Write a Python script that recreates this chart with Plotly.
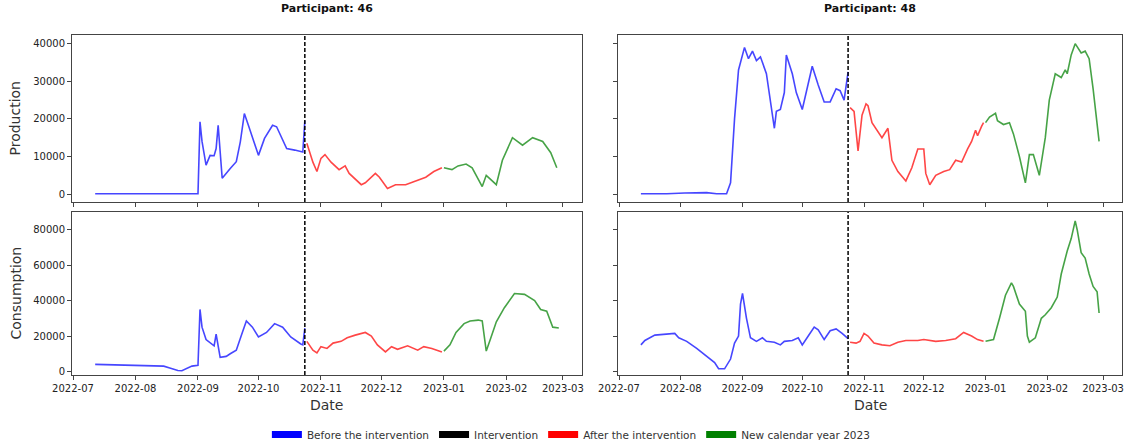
import plotly.graph_objects as go
from plotly.subplots import make_subplots

# ---------------- data ----------------
intervention_date = "2022-10-24"

# Participant 46 - production
p46_prod_before_dates = ["2022-07-12", "2022-09-01", "2022-09-02", "2022-09-03", "2022-09-05", "2022-09-07",
                         "2022-09-09", "2022-09-10", "2022-09-11", "2022-09-13", "2022-09-17", "2022-09-20",
                         "2022-09-22", "2022-09-24", "2022-09-26", "2022-10-01", "2022-10-04", "2022-10-08",
                         "2022-10-10", "2022-10-15", "2022-10-19", "2022-10-23", "2022-10-24"]
p46_prod_before = [100, 100, 19200, 14000, 7700, 10300, 10200, 12100, 18300, 4200, 6800, 8600,
                   13900, 21400, 18300, 10300, 14800, 18300, 17900, 12100, 11700, 11200, 19500]
p46_prod_after_dates = ["2022-10-25", "2022-10-28", "2022-10-30", "2022-11-01", "2022-11-03", "2022-11-06",
                        "2022-11-10", "2022-11-13", "2022-11-15", "2022-11-21", "2022-11-23", "2022-11-28",
                        "2022-11-30", "2022-12-04", "2022-12-08", "2022-12-13", "2022-12-18", "2022-12-23",
                        "2022-12-27", "2022-12-31"]
p46_prod_after = [13500, 8500, 6000, 9500, 10500, 8500, 6500, 7500, 5500, 2500, 3000, 5500,
                  4500, 1500, 2500, 2500, 3500, 4500, 6000, 7000]
p46_prod_2023_dates = ["2023-01-01", "2023-01-05", "2023-01-08", "2023-01-12", "2023-01-15", "2023-01-20",
                       "2023-01-22", "2023-01-27", "2023-01-30", "2023-02-04", "2023-02-09", "2023-02-14",
                       "2023-02-19", "2023-02-23", "2023-02-26"]
p46_prod_2023 = [7000, 6500, 7500, 8000, 7000, 2000, 5000, 2500, 9000, 15000, 13000, 15000,
                 14000, 11000, 7000]

# Participant 48 - production
p48_prod_before_dates = ["2022-07-12", "2022-07-25", "2022-08-03", "2022-08-14", "2022-08-19", "2022-08-24",
                         "2022-08-26", "2022-08-28", "2022-08-30", "2022-09-02", "2022-09-04", "2022-09-06",
                         "2022-09-08", "2022-09-10", "2022-09-13", "2022-09-15", "2022-09-17", "2022-09-18",
                         "2022-09-20", "2022-09-22", "2022-09-23", "2022-09-26", "2022-09-28", "2022-10-01",
                         "2022-10-03", "2022-10-06", "2022-10-09", "2022-10-12", "2022-10-15", "2022-10-18",
                         "2022-10-20", "2022-10-22", "2022-10-24"]
p48_prod_before = [100, 100, 300, 400, 100, 100, 3000, 20000, 33000, 39000, 36000, 38000,
                   35500, 36500, 32000, 24000, 17500, 22000, 22500, 27000, 37000, 32000, 27000, 22500,
                   27000, 34000, 29000, 24500, 24500, 28000, 27500, 25000, 32500]
p48_prod_after_dates = ["2022-10-25", "2022-10-27", "2022-10-29", "2022-10-31", "2022-11-02", "2022-11-03",
                        "2022-11-05", "2022-11-07", "2022-11-10", "2022-11-13", "2022-11-15", "2022-11-18",
                        "2022-11-22", "2022-11-25", "2022-11-28", "2022-12-01", "2022-12-02", "2022-12-04",
                        "2022-12-07", "2022-12-11", "2022-12-14", "2022-12-17", "2022-12-20", "2022-12-23",
                        "2022-12-25", "2022-12-27", "2022-12-28", "2022-12-30", "2022-12-31"]
p48_prod_after = [23000, 22000, 11500, 21000, 24000, 23500, 19000, 17500, 15000, 17500, 9000, 6000,
                  3500, 7000, 12000, 12000, 5500, 2500, 5000, 6000, 6500, 9000, 8500, 12000,
                  14000, 17000, 15500, 18000, 19000]
p48_prod_2023_dates = ["2023-01-01", "2023-01-03", "2023-01-06", "2023-01-07", "2023-01-10", "2023-01-13",
                       "2023-01-15", "2023-01-18", "2023-01-21", "2023-01-23", "2023-01-25", "2023-01-28",
                       "2023-01-31", "2023-02-02", "2023-02-05", "2023-02-08", "2023-02-10", "2023-02-11",
                       "2023-02-13", "2023-02-15", "2023-02-18", "2023-02-20", "2023-02-22", "2023-02-24",
                       "2023-02-27"]
p48_prod_2023 = [19000, 20500, 21500, 19500, 18500, 19000, 16000, 10000, 3000, 10500, 10500, 5000,
                 15000, 25000, 32000, 31000, 33000, 32000, 37000, 40000, 37500, 38000, 36000, 28000,
                 14000]

# Participant 46 - consumption
p46_cons_before_dates = ["2022-07-12", "2022-07-19", "2022-07-30", "2022-08-06", "2022-08-15", "2022-08-18",
                         "2022-08-22", "2022-08-24", "2022-08-26", "2022-08-29", "2022-09-01", "2022-09-02",
                         "2022-09-03", "2022-09-05", "2022-09-09", "2022-09-10", "2022-09-12", "2022-09-15",
                         "2022-09-17", "2022-09-20", "2022-09-23", "2022-09-25", "2022-09-28", "2022-10-01",
                         "2022-10-05", "2022-10-09", "2022-10-13", "2022-10-17", "2022-10-22", "2022-10-23",
                         "2022-10-24"]
p46_cons_before = [4000, 3800, 3500, 3200, 3000, 2000, 500, 400, 1500, 3000, 3500, 35000,
                   25000, 18000, 14500, 21000, 8000, 8500, 10000, 12000, 22000, 28500, 25000, 19500,
                   22000, 27000, 25000, 19500, 15500, 15000, 24500]
p46_cons_after_dates = ["2022-10-25", "2022-10-28", "2022-10-30", "2022-11-01", "2022-11-04", "2022-11-07",
                        "2022-11-11", "2022-11-14", "2022-11-18", "2022-11-23", "2022-11-26", "2022-11-29",
                        "2022-12-03", "2022-12-06", "2022-12-09", "2022-12-14", "2022-12-19", "2022-12-22",
                        "2022-12-26", "2022-12-31"]
p46_cons_after = [17000, 12000, 10500, 14000, 13000, 16000, 17000, 19000, 20500, 22000, 20000, 15000,
                  11000, 14000, 12500, 14500, 12000, 14000, 13000, 11000]
p46_cons_2023_dates = ["2023-01-01", "2023-01-04", "2023-01-07", "2023-01-11", "2023-01-14", "2023-01-18",
                       "2023-01-20", "2023-01-22", "2023-01-24", "2023-01-27", "2023-01-31", "2023-02-05",
                       "2023-02-10", "2023-02-15", "2023-02-18", "2023-02-21", "2023-02-24", "2023-02-27"]
p46_cons_2023 = [11500, 15000, 22000, 27000, 28500, 29000, 28500, 11500, 18000, 28000, 36000, 44000,
                 43500, 40000, 35000, 34000, 25000, 24500]

# Participant 48 - consumption
p48_cons_before_dates = ["2022-07-12", "2022-07-14", "2022-07-19", "2022-07-23", "2022-07-29", "2022-07-31",
                         "2022-08-04", "2022-08-09", "2022-08-14", "2022-08-18", "2022-08-20", "2022-08-23",
                         "2022-08-26", "2022-08-28", "2022-08-30", "2022-08-31", "2022-09-01", "2022-09-03",
                         "2022-09-05", "2022-09-08", "2022-09-11", "2022-09-13", "2022-09-17", "2022-09-20",
                         "2022-09-22", "2022-09-26", "2022-09-29", "2022-10-01", "2022-10-04", "2022-10-07",
                         "2022-10-09", "2022-10-12", "2022-10-15", "2022-10-18", "2022-10-21", "2022-10-24"]
p48_cons_before = [15000, 17500, 20500, 21000, 21500, 19000, 17000, 13000, 8500, 5000, 1500, 1500,
                   7000, 16000, 20000, 38000, 44000, 30000, 19000, 17000, 19000, 17000, 16500, 15000,
                   17000, 17500, 19000, 15000, 20000, 25000, 23500, 18000, 23000, 24000, 21500, 18500]
p48_cons_after_dates = ["2022-10-25", "2022-10-28", "2022-10-30", "2022-11-01", "2022-11-03", "2022-11-06",
                        "2022-11-10", "2022-11-14", "2022-11-18", "2022-11-22", "2022-11-28", "2022-12-01",
                        "2022-12-07", "2022-12-12", "2022-12-17", "2022-12-21", "2022-12-25", "2022-12-28",
                        "2022-12-31"]
p48_cons_after = [16500, 16000, 17000, 21500, 20000, 16000, 15000, 14500, 16500, 17500, 17500, 18000,
                  17000, 17500, 18500, 22000, 20000, 18000, 17000]
p48_cons_2023_dates = ["2023-01-01", "2023-01-05", "2023-01-08", "2023-01-11", "2023-01-14", "2023-01-15",
                       "2023-01-18", "2023-01-21", "2023-01-22", "2023-01-23", "2023-01-26", "2023-01-29",
                       "2023-01-31", "2023-02-03", "2023-02-06", "2023-02-08", "2023-02-11", "2023-02-13",
                       "2023-02-15", "2023-02-16", "2023-02-18", "2023-02-20", "2023-02-22", "2023-02-24",
                       "2023-02-26", "2023-02-27"]
p48_cons_2023 = [17000, 18000, 30000, 43000, 50000, 48000, 38000, 34000, 20000, 16500, 19000, 30000,
                 32000, 36000, 42000, 55000, 68000, 75000, 85000, 80000, 67000, 64000, 55000, 48000,
                 45000, 33000]

participants = ["46", "48"]
period_names = ["Before the intervention", "Intervention", "After the intervention", "New calendar year 2023"]
period_colors = ["#0000ff", "#000000", "#ff0000", "#008000"]

production_tickvals = [0, 10000, 20000, 30000, 40000]
consumption_tickvals = [0, 20000, 40000, 60000, 80000]

# ---------------- figure ----------------
W, H = 1126, 440
FONT = "DejaVu Sans"
AXIS_COLOR = "#444444"

fig = make_subplots(rows=2, cols=2, shared_xaxes=True, shared_yaxes=True,
                    horizontal_spacing=0.03, vertical_spacing=0.02)

panels = {
    (1, 1): [(p46_prod_before_dates, p46_prod_before), (p46_prod_after_dates, p46_prod_after),
             (p46_prod_2023_dates, p46_prod_2023)],
    (1, 2): [(p48_prod_before_dates, p48_prod_before), (p48_prod_after_dates, p48_prod_after),
             (p48_prod_2023_dates, p48_prod_2023)],
    (2, 1): [(p46_cons_before_dates, p46_cons_before), (p46_cons_after_dates, p46_cons_after),
             (p46_cons_2023_dates, p46_cons_2023)],
    (2, 2): [(p48_cons_before_dates, p48_cons_before), (p48_cons_after_dates, p48_cons_after),
             (p48_cons_2023_dates, p48_cons_2023)],
}
segment_colors = [period_colors[0], period_colors[2], period_colors[3]]

for (r, c), segments in panels.items():
    for (dates, vals), col in zip(segments, segment_colors):
        fig.add_trace(go.Scatter(x=dates, y=vals, mode="lines",
                                 line=dict(color=col, width=1.6), opacity=0.72,
                                 showlegend=False, hoverinfo="skip"),
                      row=r, col=c)

# intervention marker in every panel
axis_ids = {(1, 1): ("x", "y"), (1, 2): ("x2", "y2"), (2, 1): ("x3", "y3"), (2, 2): ("x4", "y4")}
for (r, c), (xa, ya) in axis_ids.items():
    fig.add_shape(type="line", x0=intervention_date, x1=intervention_date, y0=0, y1=1,
                  xref=xa, yref=f"{ya} domain",
                  line=dict(color="black", width=1.5, dash="4px,2px"))

# legend entries
for name, col in zip(period_names, period_colors):
    fig.add_trace(go.Scatter(x=[None], y=[None], mode="lines", name=name,
                             line=dict(color=col, width=7)), row=1, col=1)

# layout: panel positions in paper fractions (margins are zero, so paper == page)
col_dom = [[72 / W, 582 / W], [618 / W, 1122 / W]]
row_dom = [[(H - 202) / H, (H - 35) / H], [(H - 375) / H, (H - 212) / H]]

x_range = ["2022-06-30 12:00", "2023-03-10 12:00"]
common_x = dict(range=x_range, type="date", dtick="M1", tick0="2022-07-01", tickformat="%Y-%m",
                showline=True, mirror=True, linecolor=AXIS_COLOR, linewidth=1,
                ticks="outside", ticklen=4, tickcolor=AXIS_COLOR, showgrid=False, zeroline=False,
                automargin=False, tickfont=dict(family=FONT, size=10, color="#222222"))
common_y = dict(showline=True, mirror=True, linecolor=AXIS_COLOR, linewidth=1,
                ticks="outside", ticklen=4, tickcolor=AXIS_COLOR, showgrid=False, zeroline=False,
                automargin=False, tickformat="d", tickfont=dict(family=FONT, size=10, color="#222222"))

fig.update_layout(
    xaxis=dict(common_x, domain=col_dom[0], showticklabels=False),
    xaxis2=dict(common_x, domain=col_dom[1], showticklabels=False),
    xaxis3=dict(common_x, domain=col_dom[0], showticklabels=True),
    xaxis4=dict(common_x, domain=col_dom[1], showticklabels=True),
    yaxis=dict(common_y, domain=row_dom[0], range=[-2100, 42300], tickvals=production_tickvals,
               showticklabels=True),
    yaxis2=dict(common_y, domain=row_dom[0], range=[-2100, 42300], tickvals=production_tickvals,
                showticklabels=False),
    yaxis3=dict(common_y, domain=row_dom[1], range=[-2000, 90000], tickvals=consumption_tickvals,
                showticklabels=True),
    yaxis4=dict(common_y, domain=row_dom[1], range=[-2000, 90000], tickvals=consumption_tickvals,
                showticklabels=False),
)

annotations = []
for i, p in enumerate(participants):
    xc = (col_dom[i][0] + col_dom[i][1]) / 2
    annotations.append(dict(text=f"<b>Participant: {p}</b>", x=xc, y=(H - 8) / H, xref="paper", yref="paper",
                            xanchor="center", yanchor="middle", showarrow=False,
                            font=dict(family=FONT, size=11, color="#111111")))
    annotations.append(dict(text="Date", x=xc, y=(H - 405) / H, xref="paper", yref="paper",
                            xanchor="center", yanchor="middle", showarrow=False,
                            font=dict(family=FONT, size=14, color="#333333")))
for label, dom in zip(["Production", "Consumption"], row_dom):
    annotations.append(dict(text=label, x=15 / W, y=(dom[0] + dom[1]) / 2, xref="paper", yref="paper",
                            xanchor="center", yanchor="middle", textangle=-90, showarrow=False,
                            font=dict(family=FONT, size=14, color="#333333")))

fig.update_layout(
    width=W, height=H,
    margin=dict(l=0, r=0, t=0, b=0, autoexpand=False),
    paper_bgcolor="white", plot_bgcolor="white",
    annotations=annotations,
    showlegend=True,
    legend=dict(orientation="h", x=0.507, xanchor="center", y=(H - 420) / H, yanchor="top",
                font=dict(family=FONT, size=10.5, color="#333333"), itemwidth=30,
                bgcolor="rgba(0,0,0,0)", tracegroupgap=0),
)

fig.write_html("out.html")
